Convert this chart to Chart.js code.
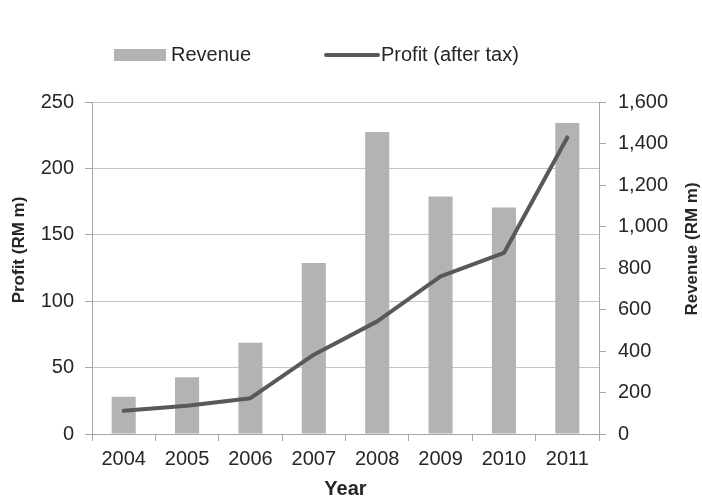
<!DOCTYPE html>
<html>
<head>
<meta charset="utf-8">
<script src="https://cdn.jsdelivr.net/npm/chart.js@4"></script>
<style>
  html, body { margin: 0; padding: 0; background: #fff; }
  #wrap { width: 702px; height: 499px; }
</style>
</head>
<body>
<div id="wrap"><canvas id="chart" width="702" height="499"></canvas></div>
<script>
// Yearly figures, RM million
const years = ['2004', '2005', '2006', '2007', '2008', '2009', '2010', '2011'];
const revenue = [180, 273, 440, 824, 1455, 1145, 1091, 1499];
const profit = [17.5, 21.3, 27, 59.7, 84.8, 118.7, 136.3, 223.3];

const barColor = '#b3b3b3';
const lineColor = '#595959';
const textColor = '#262626';
const axisColor = '#a6a6a6';
const gridColor = '#c4c4c4';
const fontFamily = '"Liberation Sans", Arial, sans-serif';

// Legend drawn by hand: a swatch for the bars, a thick stroke for the line
const topLegend = {
  id: 'topLegend',
  afterDraw(chart) {
    const { ctx } = chart;
    const [bars, line] = chart.data.datasets;
    const y = 55;
    ctx.save();
    ctx.font = '20px ' + fontFamily;
    ctx.textBaseline = 'middle';

    ctx.fillStyle = bars.backgroundColor;
    ctx.fillRect(114, y - 6, 52, 12);
    ctx.fillStyle = textColor;
    ctx.fillText(bars.label, 171, y);

    ctx.strokeStyle = line.borderColor;
    ctx.lineWidth = 4;
    ctx.lineCap = 'round';
    ctx.beginPath();
    ctx.moveTo(326, y);
    ctx.lineTo(378, y);
    ctx.stroke();
    ctx.fillText(line.label, 381, y);
    ctx.restore();
  }
};

// Both value-axis titles read bottom to top, so they are drawn here
const sideTitles = {
  id: 'sideTitles',
  afterDraw(chart) {
    const { ctx } = chart;
    const titles = [
      { text: 'Profit (RM m)', x: 19, y: 250 },
      { text: 'Revenue (RM m)', x: 692, y: 249 }
    ];
    ctx.save();
    ctx.font = 'bold 17px ' + fontFamily;
    ctx.fillStyle = textColor;
    ctx.textAlign = 'center';
    ctx.textBaseline = 'middle';
    titles.forEach(t => {
      ctx.save();
      ctx.translate(t.x, t.y);
      ctx.rotate(-Math.PI / 2);
      ctx.fillText(t.text, 0, 0);
      ctx.restore();
    });
    ctx.restore();
  }
};

new Chart(document.getElementById('chart'), {
  data: {
    labels: years,
    datasets: [
      {
        type: 'bar',
        label: 'Revenue',
        data: revenue,
        yAxisID: 'y1',
        backgroundColor: barColor,
        borderWidth: 0,
        barPercentage: 0.38,
        categoryPercentage: 1,
        order: 2
      },
      {
        type: 'line',
        label: 'Profit (after tax)',
        data: profit,
        yAxisID: 'y',
        borderColor: lineColor,
        backgroundColor: lineColor,
        borderWidth: 4,
        borderCapStyle: 'round',
        borderJoinStyle: 'round',
        pointRadius: 0,
        tension: 0,
        order: 1
      }
    ]
  },
  options: {
    responsive: false,
    animation: false,
    layout: { padding: { top: 102, left: 0, right: 0, bottom: 0 } },
    plugins: {
      legend: { display: false },
      tooltip: { enabled: false }
    },
    scales: {
      x: {
        offset: true,
        grid: { offset: true, drawOnChartArea: false, drawTicks: true, tickLength: 7, tickColor: axisColor },
        border: { color: axisColor, width: 1 },
        ticks: { color: textColor, padding: 6, font: { family: fontFamily, size: 20 } },
        title: {
          display: true, text: 'Year', color: textColor,
          padding: { top: 0, bottom: 0 },
          font: { family: fontFamily, size: 20, weight: 'bold', lineHeight: 1 }
        },
        afterFit(scale) { scale.height = 65; }
      },
      y: {
        position: 'left',
        min: 0, max: 250,
        ticks: { stepSize: 50, color: textColor, padding: 11, font: { family: fontFamily, size: 20 } },
        grid: { color: gridColor, tickColor: axisColor, tickLength: 7 },
        border: { color: axisColor, width: 1 },
        afterFit(scale) { scale.width = 92; }
      },
      y1: {
        position: 'right',
        min: 0, max: 1600,
        ticks: { stepSize: 200, color: textColor, padding: 12, font: { family: fontFamily, size: 20 } },
        grid: { drawOnChartArea: false, tickColor: axisColor, tickLength: 7 },
        border: { color: axisColor, width: 1 },
        afterFit(scale) { scale.width = 103; }
      }
    }
  },
  plugins: [topLegend, sideTitles]
});
</script>
</body>
</html>
